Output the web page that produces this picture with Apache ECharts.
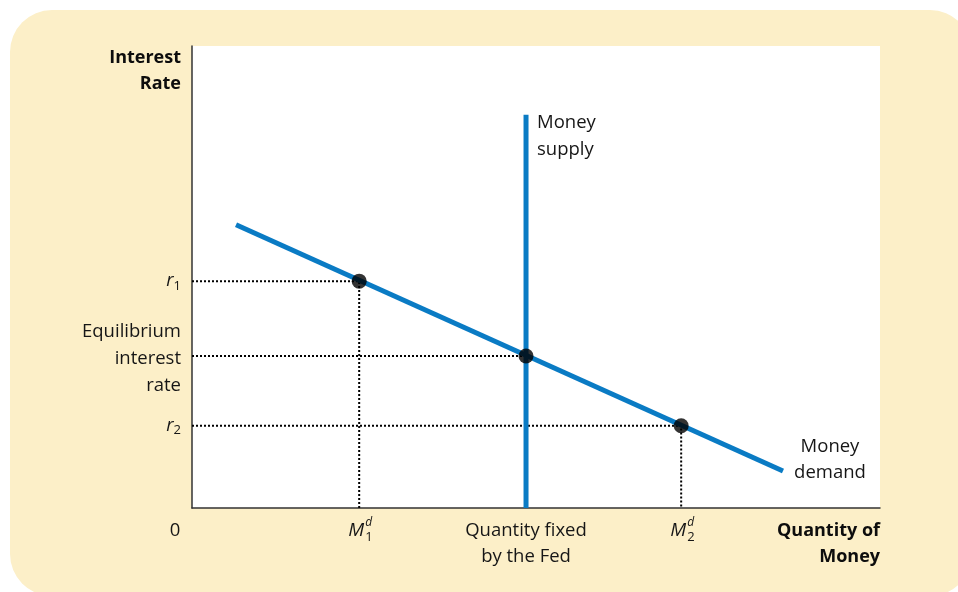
<!DOCTYPE html>
<html>
<head>
<meta charset="utf-8">
<script src="https://cdn.jsdelivr.net/npm/echarts@6/dist/echarts.min.js"></script>
<style>
html,body{margin:0;padding:0;background:#fff;}
#chart{width:958px;height:592px;}
</style>
</head>
<body>
<div id="chart"></div>
<script>
// ---- data (abstract units: x 0..100 quantity, y 0..100 interest rate)
const demandX = [6.4, 85.9];
const demandY = [61.3, 8.0];
const supplyX = 48.55;
const supplyTop = 85.1;
const pointNames = ['M1', 'Eq', 'M2'];
const pointX = [24.3, 48.55, 71.1];
const pointY = [49.1, 32.9, 17.8];
const yTickLabels = ['r1', 'Equilibrium\ninterest\nrate', 'r2'];
const xMidLabel = 'Quantity fixed\nby the Fed';
const yTitle = 'Interest\nRate';
const xTitle = 'Quantity of\nMoney';
const supplyLabel = 'Money\nsupply';
const demandLabel = 'Money\ndemand';

const FONT = '"Open Sans", "Liberation Sans", Arial, sans-serif';
const FS = 18.5;
const TXT = '#161616';
const BLUE = '#0a7bc4';
const BG = '#fcefc8';

const chart = echarts.init(document.getElementById('chart'), null, {renderer: 'canvas'});

const dotted = {color: '#000', width: 2, type: [2, 2]};
const guideSeries = [
  // r1 horizontal + M1 vertical
  {data: [[0, pointY[0]], [pointX[0], pointY[0]], [pointX[0], 0]]},
  // equilibrium horizontal
  {data: [[0, pointY[1]], [pointX[1], pointY[1]]]},
  // r2 horizontal + M2 vertical
  {data: [[0, pointY[2]], [pointX[2], pointY[2]], [pointX[2], 0]]}
].map(s => Object.assign({type: 'line', symbol: 'none', silent: true, lineStyle: dotted, z: 2}, s));

const yRich = {
  i: {fontFamily: FONT, fontSize: FS, fontStyle: 'italic', color: TXT},
  s: {fontFamily: FONT, fontSize: 13, color: TXT, padding: [10, 0, 0, 0]},
  g: {fontFamily: FONT, fontSize: 1, lineHeight: 6, color: 'rgba(0,0,0,0)'},
  e: {fontFamily: FONT, fontSize: FS, color: TXT, lineHeight: 27}
};

chart.setOption({
  animation: false,
  grid: {left: 192, top: 46, width: 688, height: 462, show: true, backgroundColor: '#fff', borderWidth: 0},
  xAxis: {
    type: 'value', min: 0, max: 100,
    axisLine: {show: true, lineStyle: {color: '#333', width: 1.5}},
    axisTick: {show: false}, splitLine: {show: false},
    axisLabel: {
      customValues: [pointX[1]],
      formatter: () => xMidLabel,
      fontFamily: FONT, fontSize: FS, color: TXT, lineHeight: 26, margin: 10
    }
  },
  yAxis: {
    type: 'value', min: 0, max: 100,
    axisLine: {show: true, lineStyle: {color: '#333', width: 1.5}},
    axisTick: {show: false}, splitLine: {show: false},
    axisLabel: {
      customValues: pointY.slice(),
      formatter: (v) => {
        const idx = pointY.indexOf(v);
        if (idx === 0) return '{i|r}{s|1}';
        if (idx === 2) return '{i|r}{s|2}';
        const lines = yTickLabels[1].split('\n');
        return '{g| }\n' + lines.map(l => '{e|' + l + '}').join('\n');
      },
      rich: yRich,
      fontFamily: FONT, fontSize: FS, color: TXT, lineHeight: 27, margin: 11, align: 'right'
    }
  },
  series: [
    ...guideSeries,
    {type: 'line', symbol: 'none', silent: true, z: 3,
     lineStyle: {color: BLUE, width: 5, cap: 'butt'},
     data: [[demandX[0], demandY[0]], [demandX[1], demandY[1]]]},
    {type: 'line', symbol: 'none', silent: true, z: 3,
     lineStyle: {color: BLUE, width: 5, cap: 'butt'},
     data: [[supplyX, 0], [supplyX, supplyTop]]},
    {type: 'scatter', symbol: 'circle', symbolSize: 15, z: 5, silent: true,
     itemStyle: {color: '#000'},
     data: pointX.map((x, i) => [x, pointY[i]])}
  ]
});

function px(x, y) { return chart.convertToPixel({gridIndex: 0}, [x, y]); }

const origin = px(0, 0);
const topLeft = px(0, 100);
const bottomRight = px(100, 0);
const supPt = px(supplyX, supplyTop);
const demEnd = px(demandX[1], demandY[1]);

function mLabel(idx, sub) {
  const p = px(pointX[idx], 0);
  return {
    type: 'group', x: p[0], y: p[1] + 23,
    children: [
      {type: 'text', x: -3, y: 0, style: {text: 'M', font: 'italic 19px ' + FONT, fill: TXT, align: 'center', verticalAlign: 'middle'}},
      {type: 'text', x: 6, y: -8, style: {text: 'd', font: 'italic 12px ' + FONT, fill: TXT, align: 'left', verticalAlign: 'middle'}},
      {type: 'text', x: 6, y: 6, style: {text: sub, font: '13px ' + FONT, fill: TXT, align: 'left', verticalAlign: 'middle'}}
    ]
  };
}

chart.setOption({
  graphic: [
    {type: 'rect', z: -100, silent: true, shape: {x: 10, y: 10, width: 962, height: 586, r: 42}, style: {fill: BG}},
    {type: 'text', x: topLeft[0] - 11, y: topLeft[1] - 1, style: {text: yTitle, font: 'bold 18px ' + FONT, fill: '#0d0d0d', align: 'right', verticalAlign: 'top', lineHeight: 26}},
    {type: 'text', x: bottomRight[0], y: bottomRight[1] + 10, style: {text: xTitle, font: 'bold 18px ' + FONT, fill: '#0d0d0d', align: 'right', verticalAlign: 'top', lineHeight: 26}},
    {type: 'text', x: origin[0] - 17, y: origin[1] + 23, style: {text: '0', font: FS + 'px ' + FONT, fill: TXT, align: 'center', verticalAlign: 'middle'}},
    {type: 'text', x: supPt[0] + 11, y: supPt[1] - 6, style: {text: supplyLabel, font: FS + 'px ' + FONT, fill: TXT, align: 'left', verticalAlign: 'top', lineHeight: 27}},
    {type: 'text', x: demEnd[0] + 47, y: demEnd[1] - 37, style: {text: demandLabel, font: FS + 'px ' + FONT, fill: TXT, align: 'center', verticalAlign: 'top', lineHeight: 26}},
    mLabel(0, '1'),
    mLabel(2, '2')
  ]
});
</script>
</body>
</html>
